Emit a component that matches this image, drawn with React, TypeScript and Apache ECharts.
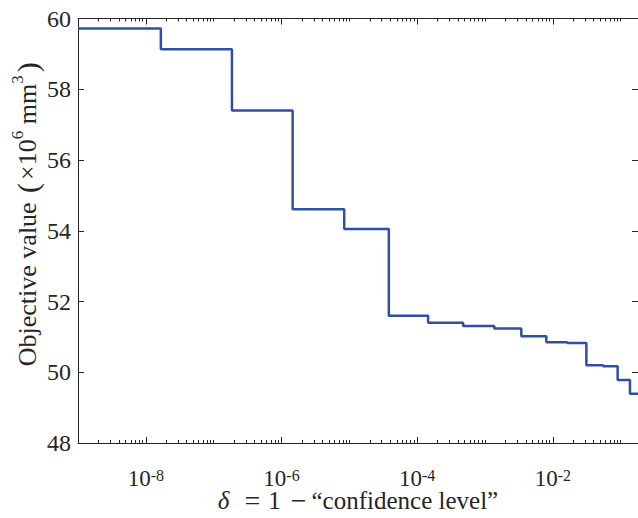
import React, { useEffect, useRef } from 'react';
import * as echarts from 'echarts';

// delta value where each level starts (last entry = right end of the plot)
const stepDelta = [1e-9, 1.665e-8, 1.86e-7, 1.46e-6, 8.4e-6, 3.82e-5, 1.45e-4, 4.76e-4, 1.37e-3, 3.43e-3, 8.02e-3, 1.63e-2, 3.12e-2, 5.52e-2, 9.02e-2, 0.137, 0.18];
const stepObjective = [59.72, 59.13, 57.4, 54.61, 54.05, 51.6, 51.4, 51.31, 51.24, 51.02, 50.85, 50.83, 50.2, 50.17, 49.78, 49.39, 49.39];
const xLabelTicks = [1e-8, 1e-6, 1e-4, 1e-2];
const yTickValues = [48, 50, 52, 54, 56, 58, 60];

const X_MIN = 1e-9;
const X_MAX = 0.18;

const minorTicks: number[] = [];
for (let e = -9; e <= -1; e++) {
  for (let m = 1; m <= 9; m++) {
    const v = m * Math.pow(10, e);
    if (v < X_MIN * 0.999 || v > X_MAX) continue;
    if (xLabelTicks.some((t) => Math.abs(t - v) / t < 1e-6)) continue;
    minorTicks.push(v);
  }
}

const FONT = "'Times New Roman', Tinos, 'Liberation Serif', Times, serif";
const AXIS_COLOR = '#262626';

export default function App() {
  const ref = useRef<HTMLDivElement>(null);
  useEffect(() => {
    if (!ref.current) return;
    const chart = echarts.init(ref.current, null, { renderer: 'svg' });
    const lineStyle = { color: AXIS_COLOR, width: 1 };
    const xBase = {
      type: 'log' as const,
      logBase: 10,
      min: X_MIN,
      max: X_MAX,
      splitLine: { show: false },
      axisLine: { show: true, lineStyle },
      axisLabel: { show: false },
      axisTick: { show: false },
    };
    const yBase = {
      type: 'value' as const,
      min: 48,
      max: 60,
      interval: 2,
      splitLine: { show: false },
      axisLine: { show: true, lineStyle },
      axisTick: { show: true, inside: true, length: 6, lineStyle },
      axisLabel: { show: false },
    };
    const data = stepDelta.map((d, i) => [d, stepObjective[i]]);
    const txt = { fontFamily: FONT, color: AXIS_COLOR };
    chart.setOption({
      animation: false,
      backgroundColor: '#ffffff',
      grid: { left: 78, right: 0, top: 18.5, bottom: 75, containLabel: false, outerBoundsMode: 'none' },
      xAxis: [
        {
          ...xBase,
          position: 'bottom',
          name: '{d|δ}{o|=}{n|1}{o2|−}{t|“confidence level”}',
          nameLocation: 'middle',
          nameGap: 46,
          nameMoveOverlap: false,
          nameTextStyle: {
            ...txt,
            fontSize: 25,
            lineHeight: 22,
            rich: {
              d: { ...txt, fontSize: 25, lineHeight: 22, fontStyle: 'italic', padding: [0, 13, 0, 0] },
              o: { ...txt, fontSize: 28, lineHeight: 22, padding: [0, 8, 0, 2] },
              n: { ...txt, fontSize: 25, lineHeight: 22, padding: [0, 9, 0, 0] },
              o2: { ...txt, fontSize: 28, lineHeight: 22, padding: [0, 5, 0, 1] },
              t: { ...txt, fontSize: 25, lineHeight: 22 },
            },
          },
          axisTick: { show: true, inside: true, length: 6, lineStyle, customValues: xLabelTicks },
          axisLabel: {
            show: true,
            margin: 24,
            customValues: xLabelTicks,
            formatter: (v: number) => `{b|10}{s|${Math.round(Math.log10(v))}}`,
            rich: {
              b: { ...txt, fontSize: 23, lineHeight: 22 },
              s: { ...txt, fontSize: 16, verticalAlign: 'top', lineHeight: 2 },
            },
          },
        },
        {
          ...xBase,
          position: 'top',
          axisTick: { show: true, inside: true, length: 6, lineStyle, customValues: xLabelTicks },
        },
        {
          ...xBase,
          position: 'bottom',
          axisLine: { show: false },
          axisTick: { show: true, inside: true, length: 3, lineStyle, customValues: minorTicks },
        },
        {
          ...xBase,
          position: 'top',
          axisLine: { show: false },
          axisTick: { show: true, inside: true, length: 3, lineStyle, customValues: minorTicks },
        },
      ],
      yAxis: [
        {
          ...yBase,
          position: 'left',
          axisLabel: {
            show: true,
            margin: 7,
            ...txt,
            fontSize: 24,
            formatter: (v: number) => (yTickValues.includes(v) ? String(v) : ''),
          },
          name: '{a|Objective value }{p|(}{a|×10}{s|6}{a| mm}{s|3}{p|)}',
          nameLocation: 'middle',
          nameGap: 33,
          nameMoveOverlap: false,
          nameRotate: 90,
          nameTextStyle: {
            ...txt,
            fontSize: 26,
            padding: [0, 0, 0, 36],
            rich: {
              a: { ...txt, fontSize: 26, lineHeight: 36 },
              p: { ...txt, fontSize: 30, lineHeight: 36, padding: [0, 3, 0, 3] },
              s: { ...txt, fontSize: 17, verticalAlign: 'top', lineHeight: 16 },
            },
          },
        },
        {
          ...yBase,
          position: 'right',
        },
      ],
      series: [
        {
          type: 'line',
          xAxisIndex: 0,
          yAxisIndex: 0,
          step: 'end',
          data,
          showSymbol: false,
          symbol: 'none',
          lineStyle: { color: '#2f4ea8', width: 2.5 },
        },
      ],
    });
    return () => chart.dispose();
  }, []);
  return <div ref={ref} style={{ width: 638, height: 518, position: 'absolute', left: 0, top: 0 }} />;
}
